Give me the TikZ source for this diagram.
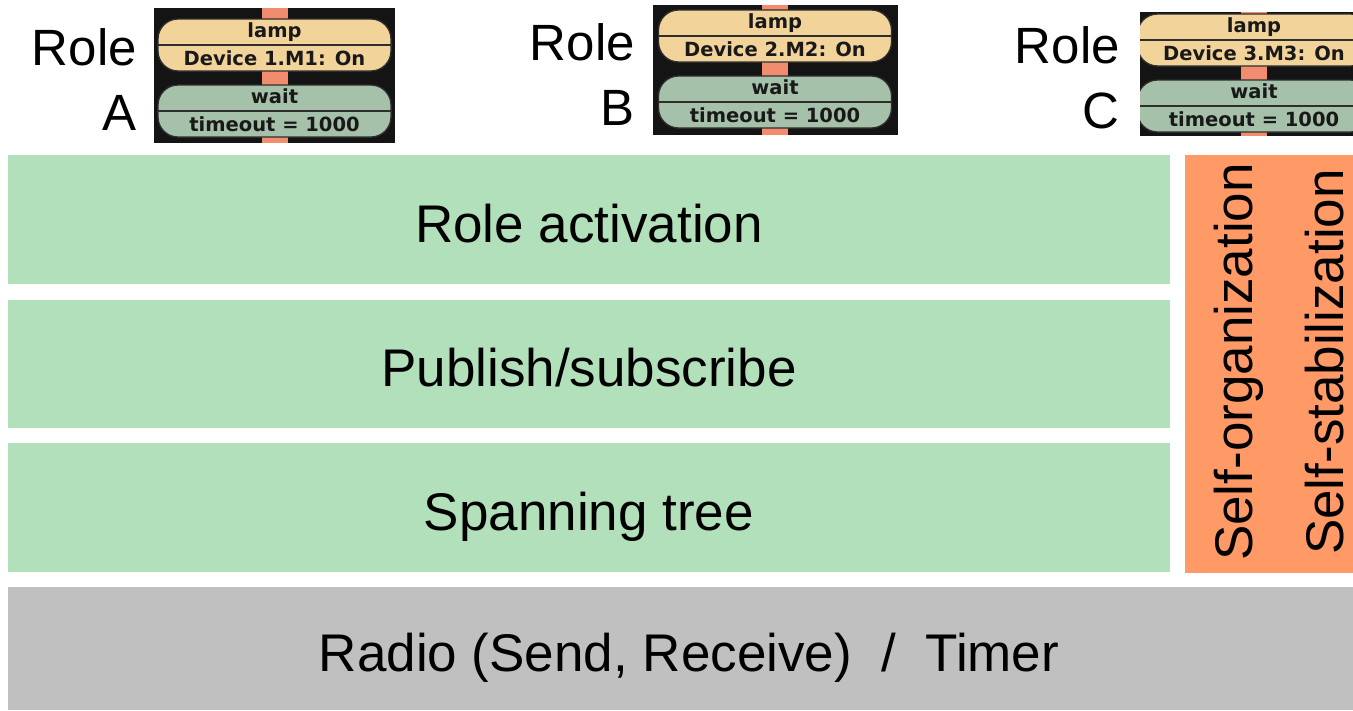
\documentclass[tikz,border=0pt]{standalone}
\usepackage{fontspec}
\setmainfont{Liberation Sans}
\newfontfamily\pillfont{DejaVu Sans}

\definecolor{layergreen}{HTML}{B1E0BB}
\definecolor{layergray}{HTML}{C0C0C0}
\definecolor{sideorange}{HTML}{FF9966}
\definecolor{panelbg}{HTML}{141414}
\definecolor{lampfill}{HTML}{F2D49B}
\definecolor{waitfill}{HTML}{A6C1A9}
\definecolor{linkfill}{HTML}{F28C6E}
\definecolor{pilledge}{HTML}{2E2E2E}

\tikzset{
  layer/.style={rectangle, inner sep=0pt, text height=57pt, text depth=12pt,
    font=\fontsize{53}{60}\selectfont},
  sidetext/.style={rotate=90, anchor=base, inner sep=0pt,
    font=\fontsize{53}{60}\selectfont},
  rolelabel/.style={anchor=base east, inner sep=0pt,
    font=\fontsize{51}{60}\selectfont},
  pill/.style={rectangle, draw=pilledge, line width=1.3pt, rounded corners=20pt,
    minimum width=233pt, minimum height=52pt, inner sep=0pt},
  pilltext/.style={anchor=base, inner sep=0pt, text=black!90,
    font=\pillfont\bfseries\fontsize{19.5}{21}\selectfont},
}

% One state-chart snapshot: #1 name, #2..#5 panel box (left, top, right, bottom),
% #6 centre x of the chart, #7 top of the first state, #8 action line of the lamp state
\newcommand\rolepanel[8]{%
  \begin{scope}
    \clip (#2,#3) rectangle (#4,#5);
    \fill[panelbg] (#2,#3) rectangle (#4,#5);
    \fill[linkfill] (#6-13,#3) rectangle (#6+13,#5);
    \node[pill, fill=lampfill] (#1lamp) at (#6,#7+26) {};
    \draw[pilledge, line width=1.3pt] (#1lamp.west) -- (#1lamp.east);
    \node[pilltext] (#1lampname) at (#6,#7+18.5) {lamp};
    \node[pilltext] (#1lampact) at (#6,#7+46) {#8};
    \node[pill, fill=waitfill] (#1wait) at (#6,#7+66+26) {};
    \draw[pilledge, line width=1.3pt] (#1wait.west) -- (#1wait.east);
    \node[pilltext] (#1waitname) at (#6,#7+66+18.5) {wait};
    \node[pilltext] (#1waitact) at (#6,#7+66+46) {timeout = 1000};
  \end{scope}}

\begin{document}
\begin{tikzpicture}[x=1pt, y=-1pt]
  \useasboundingbox (0,0) rectangle (1353,710);
  \fill[white] (0,0) rectangle (1353,710);

  % middleware layers
  \node[layer, fill=layergreen, minimum width=1162pt, minimum height=129pt]
    (activation) at (589,219.5) {Role activation};
  \node[layer, fill=layergreen, minimum width=1162pt, minimum height=128pt]
    (pubsub) at (589,364) {Publish/subscribe};
  \node[layer, fill=layergreen, minimum width=1162pt, minimum height=129pt]
    (tree) at (589,507.5) {Spanning tree};
  \node[layer, fill=layergray, minimum width=1345pt, minimum height=123pt]
    (radio) at (680.5,648.5) {\hspace*{17pt}Radio (Send, Receive)\ \ /\ \ Timer};

  % cross-cutting properties
  \node[rectangle, fill=sideorange, inner sep=0pt, minimum width=168pt,
    minimum height=418pt] (props) at (1269,364) {};
  \node[sidetext] (selforg) at (1252,362) {Self-organization};
  \node[sidetext] (selfstab) at (1343,362) {Self-stabilization};

  % roles with their state charts
  \node[rolelabel] (roleAword) at (137,65) {Role};
  \node[rolelabel] (roleAname) at (137,130) {A};
  \rolepanel{A}{154}{8}{395}{143}{274.5}{19}{Device 1.M1: On}

  \node[rolelabel] (roleBword) at (635,60) {Role};
  \node[rolelabel] (roleBname) at (635,125) {B};
  \rolepanel{B}{653}{5}{898}{135}{775}{10}{Device 2.M2: On}

  \node[rolelabel] (roleCword) at (1120,63) {Role};
  \node[rolelabel] (roleCname) at (1120,128) {C};
  \rolepanel{C}{1140}{12}{1353}{136}{1254}{14}{Device 3.M3: On}
\end{tikzpicture}
\end{document}
